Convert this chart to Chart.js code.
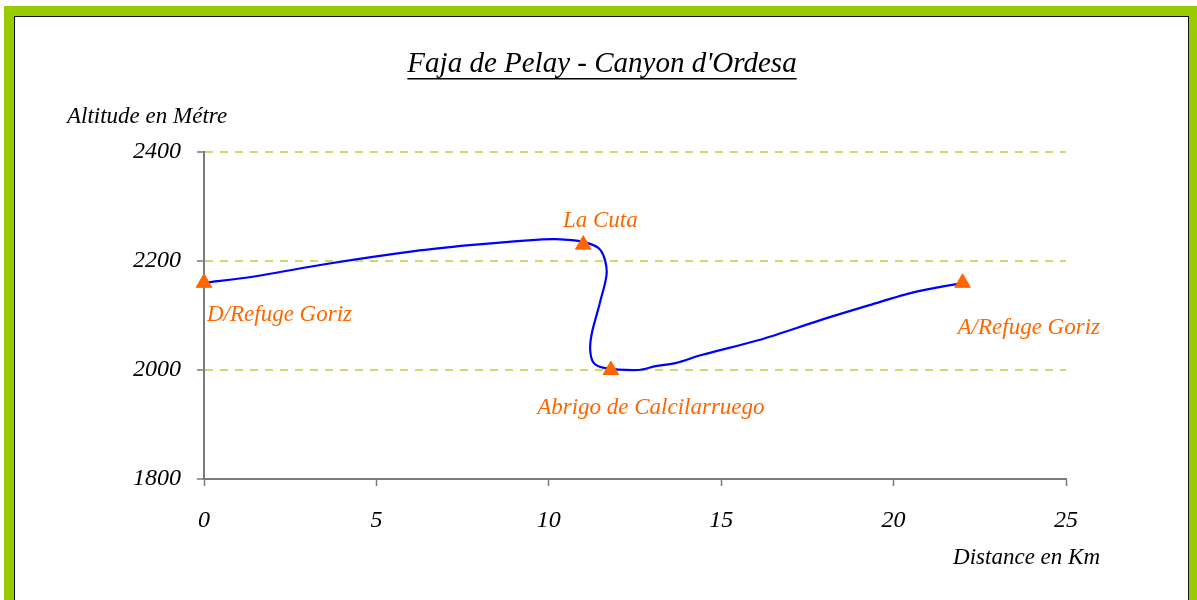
<!DOCTYPE html>
<html>
<head>
<meta charset="utf-8">
<script src="https://cdn.jsdelivr.net/npm/chart.js@4.4.1/dist/chart.umd.min.js"></script>
<style>
  html, body { margin: 0; padding: 0; background: #fff; overflow: hidden; }
  #frame {
    position: absolute; left: 4px; top: 6px;
    width: 1175px; height: 620px;
    background: #99CC00; padding: 10px;
  }
  #inner {
    width: 1173px; height: 618px;
    background: #fff; border: 1px solid #111;
  }
  #chart { position: absolute; left: 0; top: 0; }
</style>
</head>
<body>
<div id="frame"><div id="inner"></div></div>
<canvas id="chart" width="1197" height="600"></canvas>
<script>
// trail profile (km, m)
const distanceKm = [0, 1.5, 3.5, 6.1, 7.7, 9.4, 10.2, 11.0, 11.5, 11.68, 11.48, 11.25, 11.2, 11.3, 11.6, 12.6, 13.1, 13.7, 14.4, 16.1, 17.9, 19.3, 20.6, 22];
const altitudeM = [2160, 2172, 2194, 2218, 2229, 2238, 2240, 2235, 2220, 2180, 2123, 2068, 2037, 2013, 2004, 2000, 2007, 2013, 2027, 2055, 2092, 2119, 2143, 2160];

// waypoints
const stopNames = ['D/Refuge Goriz', 'La Cuta', 'Abrigo de Calcilarruego', 'A/Refuge Goriz'];
const stopKm = [0, 11, 11.8, 22];
const stopAlt = [2160, 2230, 2000, 2160];

const xTicks = [0, 5, 10, 15, 20, 25];
const yTicks = [1800, 2000, 2200, 2400];

const chartTitle = "Faja de Pelay - Canyon d'Ordesa";
const yTitle = 'Altitude en Métre';
const xTitle = 'Distance en Km';

const serif = '"Liberation Serif", "DejaVu Serif", serif';
const orange = '#FF6600';

// label placement relative to each waypoint [dx, dy, align]
const labelOffsets = [[3, 32, 'left'], [17, -24, 'center'], [40, 38, 'center'], [-5, 45, 'left']];

const profilePoints = distanceKm.map((x, i) => ({ x: x, y: altitudeM[i] }));
const stopPoints = stopKm.map((x, i) => ({ x: x, y: stopAlt[i] }));

const textPlugin = {
  id: 'texts',
  afterDraw(chart) {
    const ctx = chart.ctx;
    const xs = chart.scales.x, ys = chart.scales.y;
    ctx.save();
    ctx.textBaseline = 'middle';

    // title, underlined
    ctx.fillStyle = '#000';
    ctx.font = 'italic 29px ' + serif;
    ctx.textAlign = 'center';
    ctx.fillText(chartTitle, 602, 64);
    const w = ctx.measureText(chartTitle).width;
    ctx.fillRect(602 - w / 2, 78, w, 1.5);

    // axis titles
    ctx.font = 'italic 23px ' + serif;
    ctx.textAlign = 'left';
    ctx.fillText(yTitle, 67, 117);
    ctx.textAlign = 'right';
    ctx.fillText(xTitle, 1100, 558);

    // waypoint labels
    ctx.fillStyle = orange;
    ctx.font = 'italic 23px ' + serif;
    stopNames.forEach((name, i) => {
      const [dx, dy, align] = labelOffsets[i];
      ctx.textAlign = align;
      ctx.fillText(name, xs.getPixelForValue(stopKm[i]) + dx, ys.getPixelForValue(stopAlt[i]) + dy);
    });
    ctx.restore();
  }
};

new Chart(document.getElementById('chart'), {
  type: 'scatter',
  data: {
    datasets: [
      {
        data: profilePoints,
        showLine: true,
        borderColor: '#0000FF',
        borderWidth: 2.2,
        tension: 0.3,
        pointRadius: 0,
        clip: false,
        order: 2
      },
      {
        data: stopPoints,
        showLine: false,
        pointStyle: 'triangle',
        pointRadius: 9,
        backgroundColor: orange,
        borderColor: orange,
        borderWidth: 1,
        clip: false,
        order: 1
      }
    ]
  },
  options: {
    responsive: false,
    animation: false,
    layout: { padding: { left: 0, top: 152, right: 131, bottom: 0 } },
    plugins: { legend: { display: false }, tooltip: { enabled: false }, title: { display: false } },
    scales: {
      x: {
        type: 'linear',
        min: 0, max: 25,
        afterFit: (s) => { s.height = 121; },
        afterBuildTicks: (s) => { s.ticks = xTicks.map(v => ({ value: v })); },
        border: { color: '#7a7a7a', width: 2 },
        grid: { drawOnChartArea: false, drawTicks: true, tickLength: 7, tickColor: '#7a7a7a', tickWidth: 1.5 },
        ticks: { color: '#000', font: { family: serif, size: 24, style: 'italic' }, padding: 20, callback: (v) => String(v) }
      },
      y: {
        type: 'linear',
        min: 1800, max: 2400,
        afterFit: (s) => { s.width = 204; },
        afterBuildTicks: (s) => { s.ticks = yTicks.map(v => ({ value: v })); },
        border: { color: '#7a7a7a', width: 2, dash: [8, 7] },
        grid: {
          color: (c) => c.tick && c.tick.value === 1800 ? 'rgba(0,0,0,0)' : '#C6DF6A',
          lineWidth: 2,
          drawTicks: true,
          tickLength: 7,
          tickColor: '#7a7a7a',
          tickWidth: 1.5
        },
        ticks: { color: '#000', font: { family: serif, size: 24, style: 'italic' }, padding: 16, callback: (v) => String(v) }
      }
    }
  },
  plugins: [textPlugin]
});
</script>
</body>
</html>
